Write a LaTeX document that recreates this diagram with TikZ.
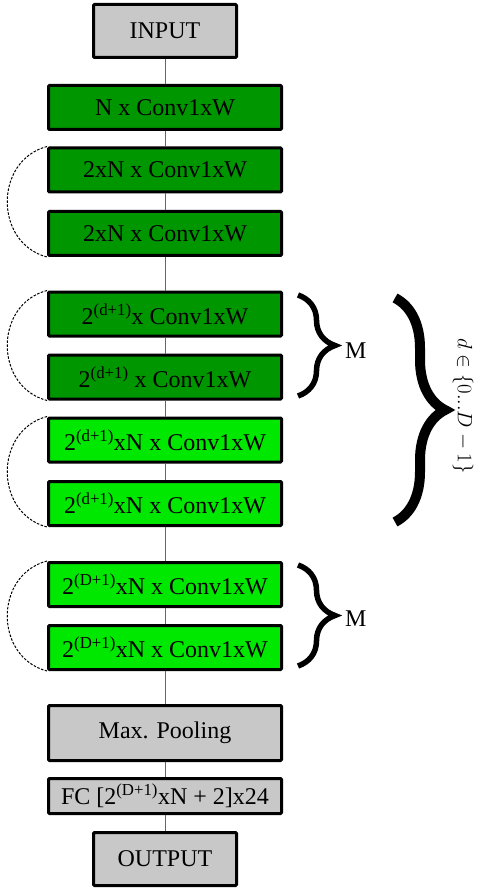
\documentclass[tikz,border=0pt]{standalone}
\usepackage{fontspec}
\setmainfont{Liberation Serif}
\usetikzlibrary{decorations.pathreplacing}
\definecolor{dkgreen}{RGB}{0,150,0}
\definecolor{ltgreen}{RGB}{0,232,0}
\definecolor{boxgray}{RGB}{200,200,200}
\begin{document}
\begin{tikzpicture}[x=1pt,y=-1pt,
  blk/.style={draw=black, line width=3pt, rounded corners=1pt, inner sep=0pt,
    minimum width=233pt, minimum height=44pt, font=\fontsize{24}{26}\selectfont},
  dkblk/.style={blk, fill=dkgreen},
  ltblk/.style={blk, fill=ltgreen},
  grblk/.style={blk, fill=boxgray},
  link/.style={draw=black!60, line width=0.9pt},
  skip/.style={draw=black, line width=1pt, dash pattern=on 2.5pt off 1.5pt},
  smallbrace/.style={draw=black, line width=5.5pt, decorate, decoration={brace, amplitude=37pt}},
  bigbrace/.style={draw=black, line width=10pt, decorate, decoration={brace, amplitude=50pt}},
  lbl/.style={font=\fontsize{24}{26}\selectfont, anchor=west, inner sep=0pt}
]
\useasboundingbox (0,0) rectangle (479,890);

\node[grblk, minimum width=143pt, minimum height=53pt] (in) at (165,31) {INPUT};
\node[dkblk] (c1) at (165,107.5) {N x Conv1xW};
\node[dkblk] (c2) at (165,170) {2xN x Conv1xW};
\node[dkblk] (c3) at (165,233.5) {2xN x Conv1xW};
\node[dkblk] (d1) at (165,314) {2\textsuperscript{(d+1)}x Conv1xW};
\node[dkblk] (d2) at (165,377) {2\textsuperscript{(d+1)} x Conv1xW};
\node[ltblk] (d3) at (165,440) {2\textsuperscript{(d+1)}xN x Conv1xW};
\node[ltblk] (d4) at (165,503.5) {2\textsuperscript{(d+1)}xN x Conv1xW};
\node[ltblk] (e1) at (165,584.5) {2\textsuperscript{(D+1)}xN x Conv1xW};
\node[ltblk] (e2) at (165,647.5) {2\textsuperscript{(D+1)}xN x Conv1xW};
\node[grblk, minimum height=55pt] (mp) at (165,733) {Max. Pooling};
\node[grblk, minimum height=35pt] (fc) at (165,796) {FC [2\textsuperscript{(D+1)}xN + 2]x24};
\node[grblk, minimum width=143pt, minimum height=53pt] (out) at (165,859) {OUTPUT};

\draw[link] (in) -- (c1);
\draw[link] (c1) -- (c2);
\draw[link] (c2) -- (c3);
\draw[link] (c3) -- (d1);
\draw[link] (d1) -- (d2);
\draw[link] (d2) -- (d3);
\draw[link] (d3) -- (d4);
\draw[link] (d4) -- (e1);
\draw[link] (e1) -- (e2);
\draw[link] (e2) -- (mp);
\draw[link] (mp) -- (fc);
\draw[link] (fc) -- (out);

\draw[skip] (c2.north west) .. controls +(-53,14) and +(-53,-14) .. (c3.south west);
\draw[skip] (d1.north west) .. controls +(-53,14) and +(-53,-14) .. (d2.south west);
\draw[skip] (d3.north west) .. controls +(-53,14) and +(-53,-14) .. (d4.south west);
\draw[skip] (e1.north west) .. controls +(-53,14) and +(-53,-14) .. (e2.south west);

\coordinate (b1t) at (298,295);
\coordinate (b1b) at (298,396);
\draw[smallbrace] (b1t) -- (b1b);
\node[lbl] (m1) at (345,351) {M};

\coordinate (b2t) at (298,565);
\coordinate (b2b) at (298,666);
\draw[smallbrace] (b2t) -- (b2b);
\node[lbl] (m2) at (345,619) {M};

\coordinate (b3t) at (395,298);
\coordinate (b3b) at (395,522);
\draw[bigbrace] (b3t) -- (b3b);
\node[rotate=-90, inner sep=0pt, font=\fontsize{22}{26}\selectfont] (dl) at (463,406) {$d\in\{0...D-1\}$};
\end{tikzpicture}
\end{document}
